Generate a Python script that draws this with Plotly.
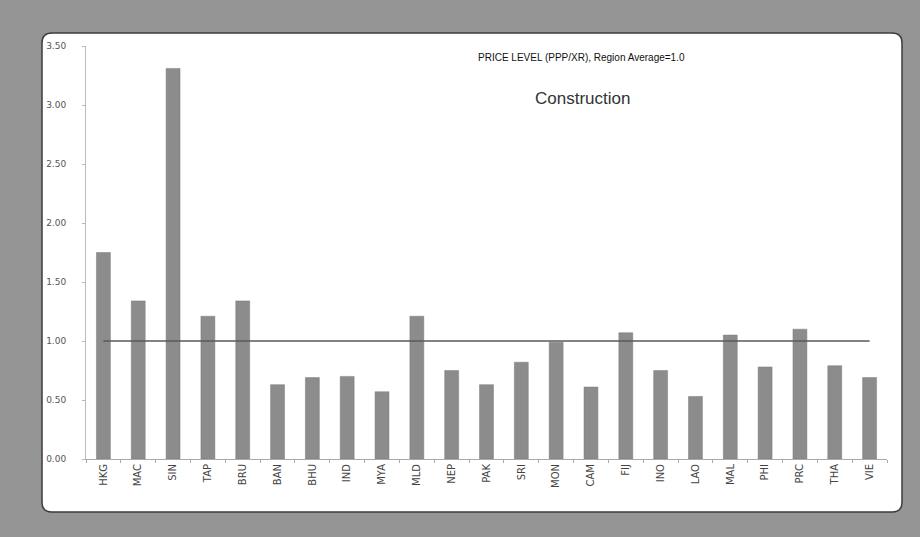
import plotly.graph_objects as go

categories = ["HKG", "MAC", "SIN", "TAP", "BRU", "BAN", "BHU", "IND", "MYA", "MLD",
              "NEP", "PAK", "SRI", "MON", "CAM", "FIJ", "INO", "LAO", "MAL", "PHI",
              "PRC", "THA", "VIE"]
price_level = [1.75, 1.34, 3.31, 1.21, 1.34, 0.63, 0.69, 0.70, 0.57, 1.21,
               0.75, 0.63, 0.82, 0.99, 0.61, 1.07, 0.75, 0.53, 1.05, 0.78,
               1.10, 0.79, 0.69]
region_average = [1.0] * len(categories)
y_ticks = [0.0, 0.5, 1.0, 1.5, 2.0, 2.5, 3.0, 3.5]

W, H = 920, 537
L, R, T, B = 86, 33, 46, 78
pw, ph = W - L - R, H - T - B


def px(x):
    return (x - L) / pw


def py(y):
    return (H - B - y) / ph


fig = go.Figure()
fig.add_trace(go.Bar(x=categories, y=price_level, width=0.4,
                     marker=dict(color="#8c8c8c", line=dict(color="#7a7a7a", width=0.5)),
                     showlegend=False))
fig.add_trace(go.Scatter(x=categories, y=region_average, mode="lines",
                         line=dict(color="#5a5a5a", width=1.5), showlegend=False))

# rounded white panel
x0, x1, y0, y1 = px(42), px(902), py(512), py(33)
rx, ry = 10 / pw, 10 / ph
path = (f"M {x0+rx},{y1} L {x1-rx},{y1} Q {x1},{y1} {x1},{y1-ry} "
        f"L {x1},{y0+ry} Q {x1},{y0} {x1-rx},{y0} L {x0+rx},{y0} "
        f"Q {x0},{y0} {x0},{y0+ry} L {x0},{y1-ry} Q {x0},{y1} {x0+rx},{y1} Z")
fig.add_shape(type="path", path=path, xref="paper", yref="paper",
              fillcolor="white", line=dict(color="#3c3c3c", width=1.5), layer="below")

fig.add_annotation(text="PRICE LEVEL (PPP/XR), Region Average=1.0", xref="paper", yref="paper",
                   x=px(581), y=py(50), showarrow=False,
                   font=dict(family="Liberation Sans, Arial", size=10, color="#111"))
fig.add_annotation(text="Construction", xref="paper", yref="paper",
                   x=px(582), y=py(87), showarrow=False,
                   font=dict(family="Liberation Sans, Arial", size=17, color="#333"))

fig.update_layout(
    width=W, height=H,
    margin=dict(l=L, r=R, t=T, b=B),
    paper_bgcolor="#959595",
    plot_bgcolor="rgba(0,0,0,0)",
    font=dict(family="DejaVu Sans", size=9, color="#444"),
    bargap=0.6,
)
fig.update_yaxes(range=[0, 3.5], tickvals=y_ticks, tickformat=".2f",
                 showgrid=False, zeroline=False, showline=True, linecolor="#bbbbbb",
                 ticks="outside", ticklen=3, tickcolor="#bbbbbb",
                 tickfont=dict(size=9, color="#555"), ticklabelstandoff=14)
fig.update_xaxes(showgrid=False, showline=True, linecolor="#aaaaaa",
                 ticks="outside", ticklen=3, tickcolor="#aaaaaa", tickson="boundaries",
                 tickangle=-90, tickfont=dict(size=10, color="#444"))

fig.write_html("out.html", config={"displayModeBar": False},
               post_script="document.body.style.margin='0';document.body.style.overflow='hidden';")
